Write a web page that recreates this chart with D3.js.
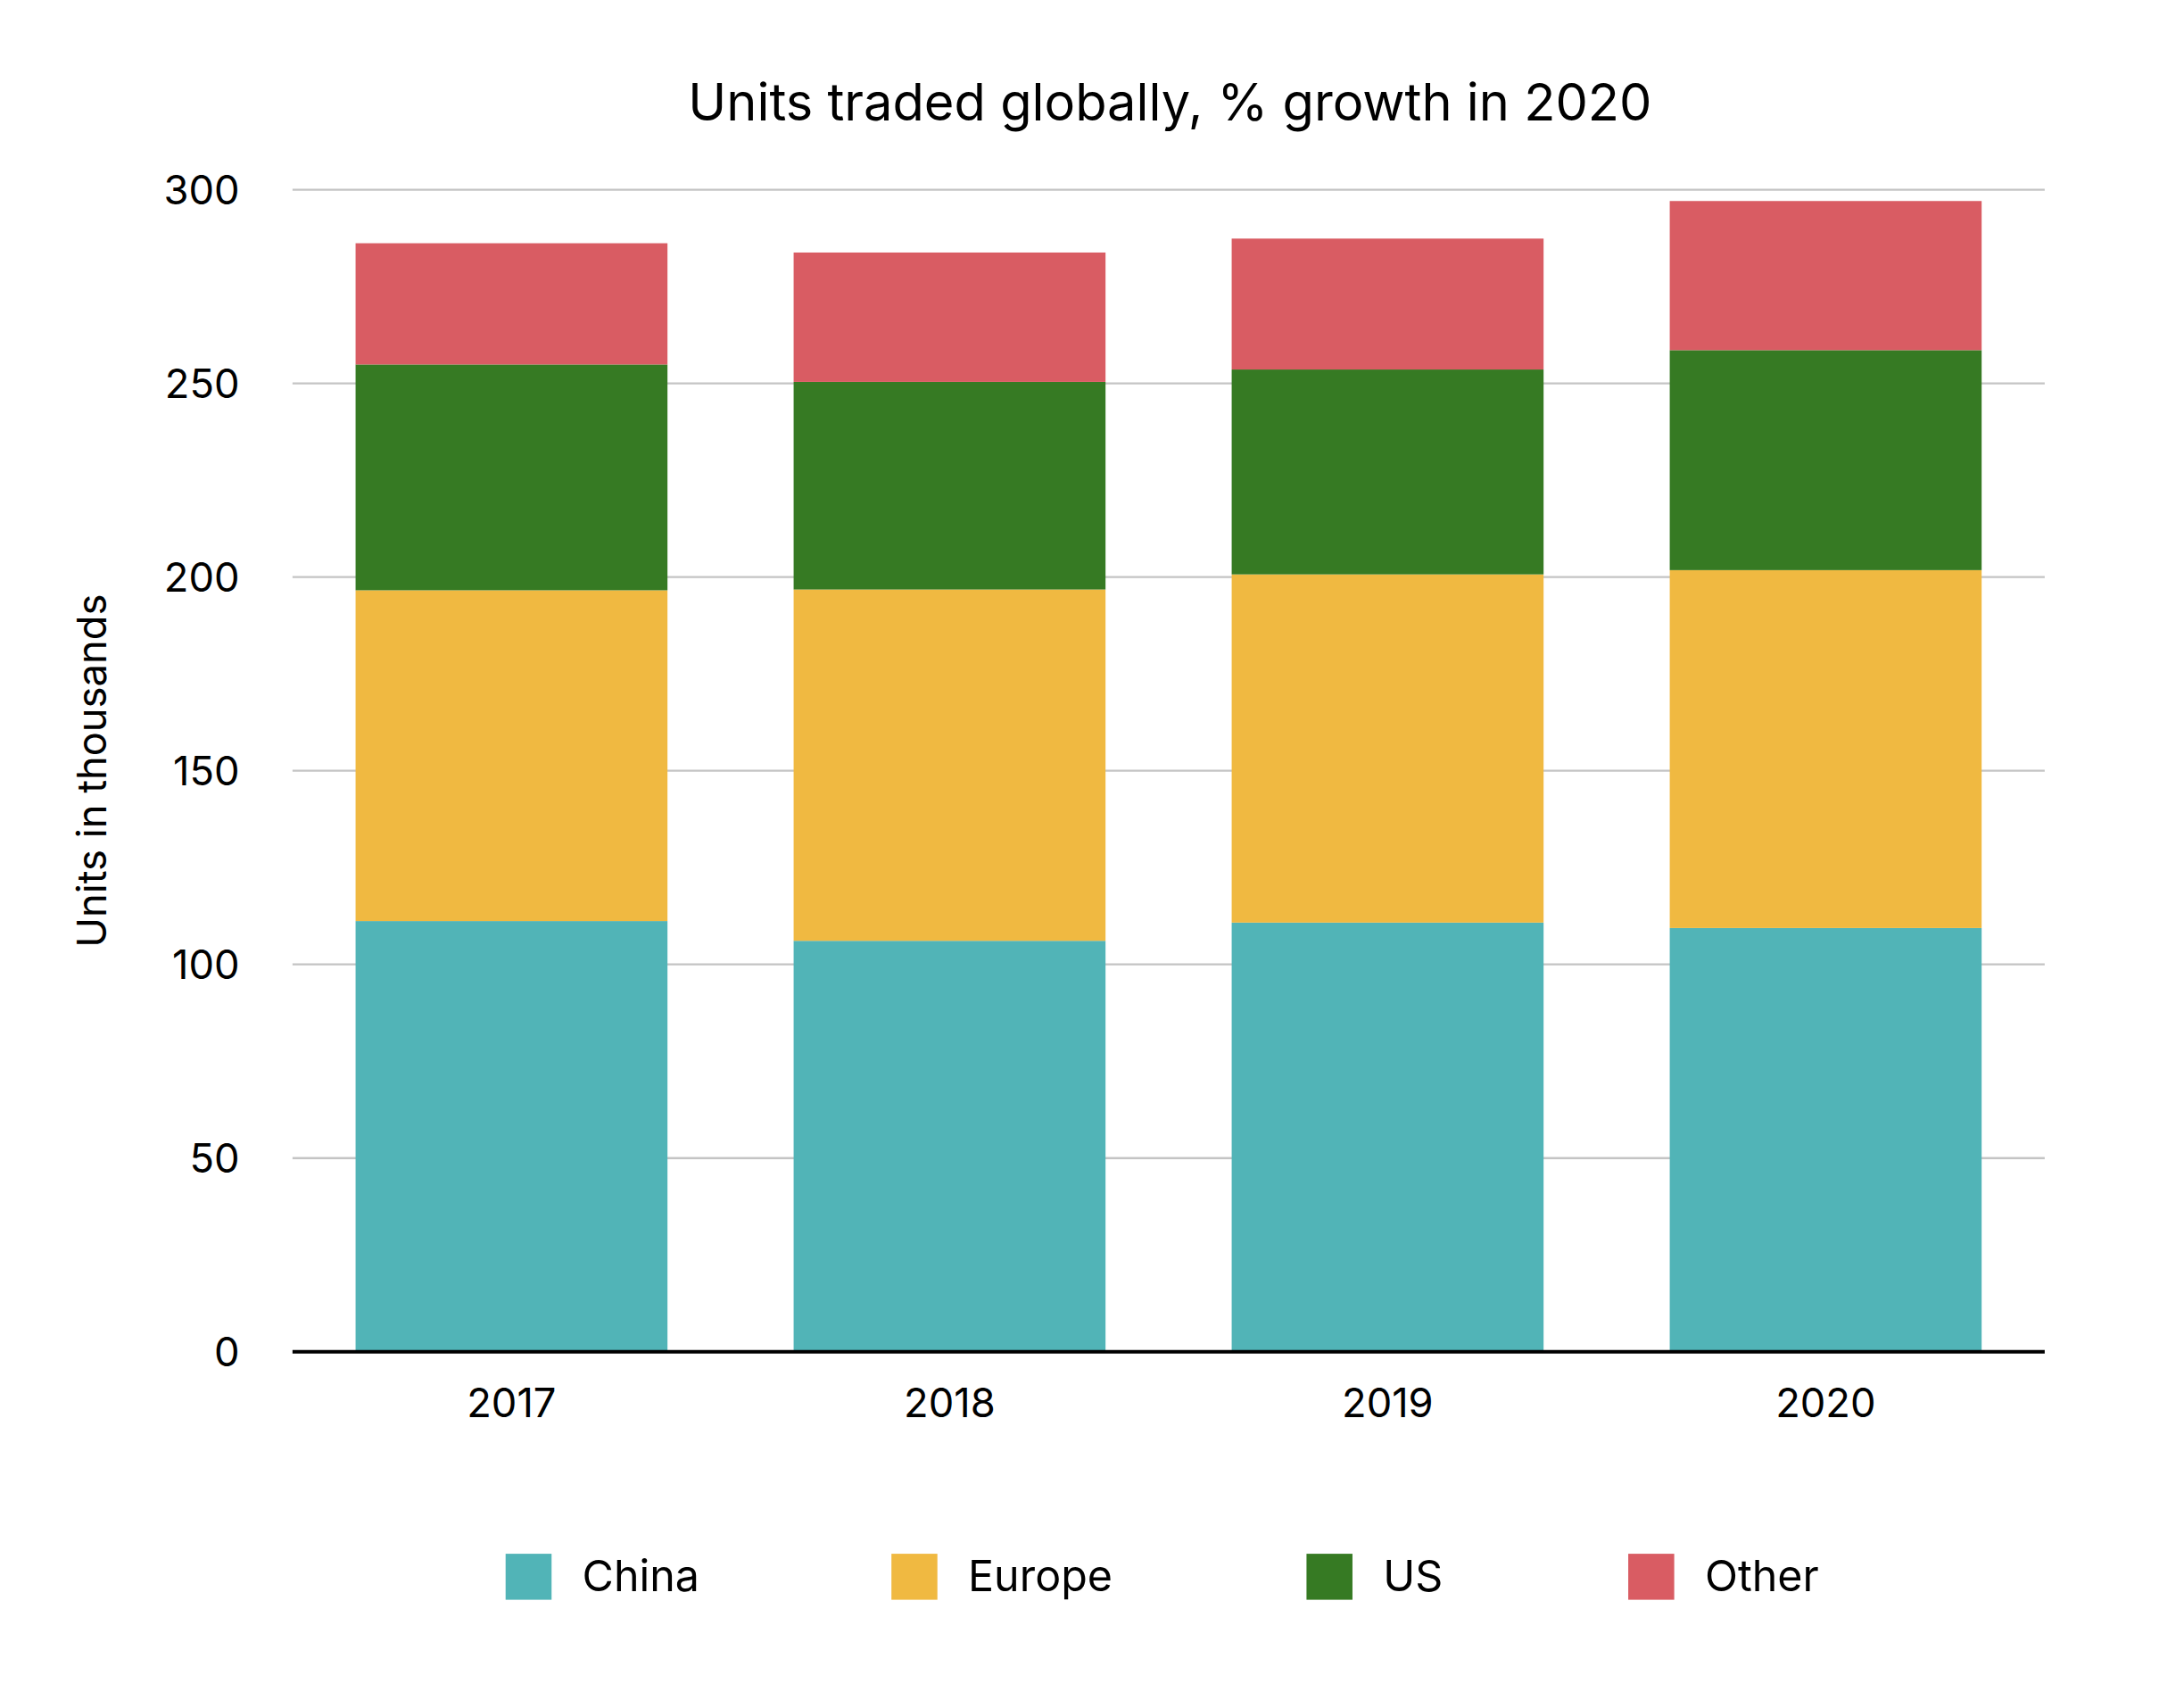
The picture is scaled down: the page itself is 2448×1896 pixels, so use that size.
<!DOCTYPE html>
<html>
<head>
<meta charset="utf-8">
<script src="https://cdn.jsdelivr.net/npm/d3@7"></script>
<style>
  body { margin: 0; background: #fff; }
  text { font-family: Inter, "Noto Sans", sans-serif; fill: #000; }
</style>
</head>
<body>
<div id="chart"></div>
<script>
// Data
const years = ["2017", "2018", "2019", "2020"];
const seriesNames = ["China", "Europe", "US", "Other"];
const china = [111.2, 106.1, 110.8, 109.4];
const europe = [85.4, 90.7, 89.9, 92.4];
const us = [58.3, 53.6, 52.9, 56.8];
const other = [31.3, 33.4, 33.8, 38.5];
const yTicks = [0, 50, 100, 150, 200, 250, 300];
const colors = ["#51b4b7", "#f0b941", "#367a23", "#d95c63"];

const W = 1568, H = 1214;
const margin = { top: 136, right: 100, bottom: 244, left: 210 };

const svg = d3.select("#chart")
  .append("svg")
  .attr("width", 2448)
  .attr("height", 1896)
  .attr("viewBox", `0 0 ${W} ${H}`);

const rows = years.map((y, i) => ({
  year: y, China: china[i], Europe: europe[i], US: us[i], Other: other[i]
}));
const stacked = d3.stack().keys(seriesNames)(rows);

const x = d3.scaleBand()
  .domain(years)
  .range([margin.left, W - margin.right])
  .paddingInner(0.288)
  .paddingOuter(0.144);

const y = d3.scaleLinear()
  .domain([0, 300])
  .range([H - margin.bottom, margin.top]);

// gridlines
svg.append("g")
  .selectAll("line")
  .data(yTicks.slice(1))
  .join("line")
  .attr("x1", margin.left)
  .attr("x2", W - margin.right)
  .attr("y1", d => y(d))
  .attr("y2", d => y(d))
  .attr("stroke", "#c4c4c4")
  .attr("stroke-width", 1.5);

// bars
svg.append("g")
  .selectAll("g")
  .data(stacked)
  .join("g")
  .attr("fill", (d, i) => colors[i])
  .selectAll("rect")
  .data(d => d)
  .join("rect")
  .attr("x", d => x(d.data.year))
  .attr("width", x.bandwidth())
  .attr("y", d => y(d[1]))
  .attr("height", d => y(d[0]) - y(d[1]));

// baseline
svg.append("line")
  .attr("x1", margin.left)
  .attr("x2", W - margin.right)
  .attr("y1", y(0))
  .attr("y2", y(0))
  .attr("stroke", "#000")
  .attr("stroke-width", 2.5);

// y tick labels
svg.append("g")
  .selectAll("text")
  .data(yTicks)
  .join("text")
  .attr("x", 172)
  .attr("y", d => y(d))
  .attr("dy", "0.35em")
  .attr("text-anchor", "end")
  .attr("font-size", 29)
  .text(d => d);

// x tick labels
svg.append("g")
  .selectAll("text")
  .data(years)
  .join("text")
  .attr("x", d => x(d) + x.bandwidth() / 2)
  .attr("y", 1007)
  .attr("dy", "0.35em")
  .attr("text-anchor", "middle")
  .attr("font-size", 29)
  .text(d => d);

// title
svg.append("text")
  .attr("x", 840)
  .attr("y", 73)
  .attr("dy", "0.35em")
  .attr("text-anchor", "middle")
  .attr("font-size", 37)
  .text("Units traded globally, % growth in 2020");

// y axis title
svg.append("text")
  .attr("transform", `translate(66, ${y(150)}) rotate(-90)`)
  .attr("dy", "0.35em")
  .attr("text-anchor", "middle")
  .attr("font-size", 29)
  .text("Units in thousands");

// legend
const legendX = [363, 640, 938, 1169];
const legend = svg.append("g")
  .selectAll("g")
  .data(seriesNames)
  .join("g")
  .attr("transform", (d, i) => `translate(${legendX[i]}, 1131)`);
legend.append("rect")
  .attr("y", -16)
  .attr("width", 33)
  .attr("height", 33)
  .attr("fill", (d, i) => colors[i]);
legend.append("text")
  .attr("x", 55)
  .attr("dy", "0.35em")
  .attr("font-size", 31)
  .text(d => d);
</script>
</body>
</html>
